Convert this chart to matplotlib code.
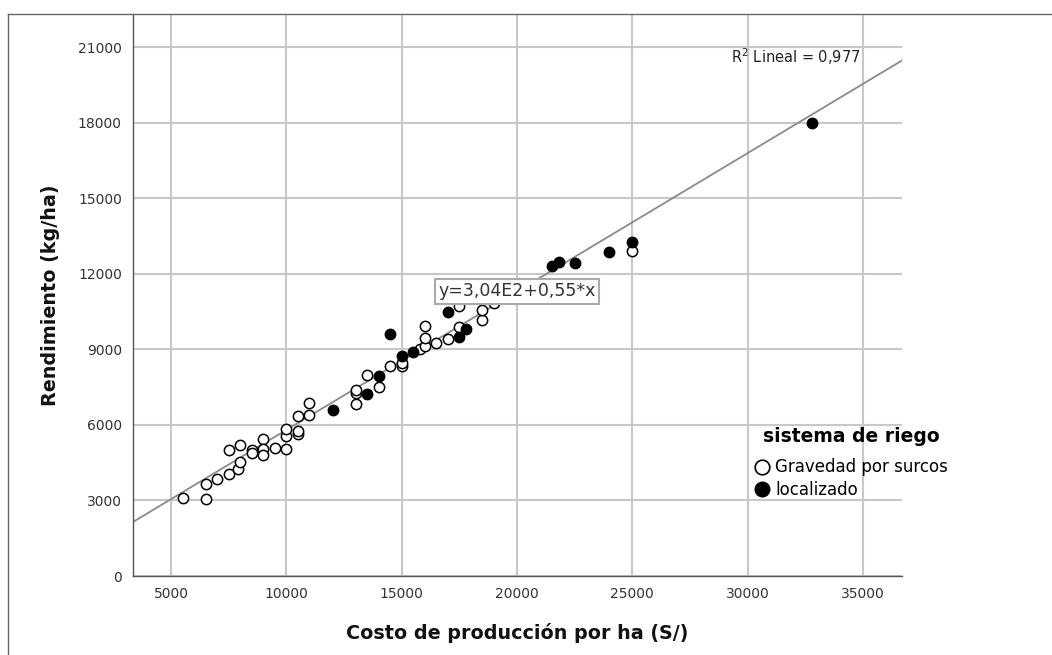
import numpy as np
import matplotlib
matplotlib.use("Agg")
import matplotlib.pyplot as plt
from matplotlib.lines import Line2D

# costo de producción (S/) y rendimiento (kg/ha) por sistema de riego
grav_costo = [5500, 6500, 6500, 7000, 7500, 7500, 7900, 8000, 8000, 8500, 8500,
              9000, 9000, 9000, 9500, 10000, 10000, 10000, 10500, 10500, 10500,
              11000, 11000, 13000, 13000, 13000, 13500, 14000, 14500, 15000, 15000,
              15800, 16000, 16000, 16000, 16500, 17000, 17500, 17500, 18500, 18500,
              19000, 25000]
grav_rend = [3100, 3070, 3640, 3860, 4060, 5000, 4270, 4530, 5200, 4990, 4890,
             5450, 5050, 4820, 5080, 5060, 5570, 5860, 5660, 5780, 6350,
             6400, 6860, 6840, 7280, 7410, 8000, 7500, 8330, 8340, 8480,
             9000, 9150, 9460, 9950, 9250, 9420, 9880, 10720, 10190, 10570,
             10830, 12930]

loc_costo = [12000, 13500, 14000, 14500, 15000, 15500, 17000, 17500, 17800,
             21500, 21800, 22500, 24000, 25000, 32800]
loc_rend = [6600, 7240, 7940, 9620, 8760, 8920, 10480, 9490, 9820,
            12330, 12490, 12450, 12860, 13260, 18000]

# recta de ajuste lineal
intercepto = 304
pendiente = 0.55
r2 = "0,977"

x_ticks = [5000, 10000, 15000, 20000, 25000, 30000, 35000]
y_ticks = [0, 3000, 6000, 9000, 12000, 15000, 18000, 21000]

W, H = 1052, 655
fig = plt.figure(figsize=(W / 100, H / 100), dpi=100)
ax = fig.add_axes([133 / W, 1 - 576 / H, (902 - 133) / W, (576 - 14) / H])

xmin, xmax = 3350, 36690
ax.set_xlim(xmin, xmax)
ax.set_ylim(0, 22330)

ax.set_xticks(x_ticks)
ax.set_yticks(y_ticks)
ax.grid(True, color="#c8c8c8", linewidth=1.5, zorder=0)
ax.set_axisbelow(True)
ax.tick_params(length=0, labelsize=10, labelcolor="#333333", pad=8)

for s in ["top", "right"]:
    ax.spines[s].set_visible(False)
for s in ["left", "bottom"]:
    ax.spines[s].set_color("#555555")
    ax.spines[s].set_linewidth(1.0)

# línea de regresión
xl = np.array([xmin, xmax])
ax.plot(xl, intercepto + pendiente * xl, color="#8a8a8a", linewidth=1.3, zorder=2)

ax.scatter(grav_costo, grav_rend, s=55, facecolor="white", edgecolor="black",
           linewidth=1.1, zorder=3)
ax.scatter(loc_costo, loc_rend, s=55, facecolor="black", edgecolor="black",
           linewidth=1.1, zorder=3)

ax.text(32100, 20650, "R$^{2}$ Lineal = " + r2, fontsize=10.5, color="#222222",
        ha="center", va="center", zorder=4)
ax.text(20000, 11320, "y=3,04E2+0,55*x", fontsize=12.5, color="#333333",
        ha="center", va="center", zorder=5,
        bbox=dict(boxstyle="square,pad=0.2", facecolor="white",
                  edgecolor="#aaaaaa", linewidth=1.5))

ax.set_xlabel("Costo de producción por ha (S/)", fontsize=13.8, fontweight="bold",
              color="#111111", labelpad=16)
ax.set_ylabel("Rendimiento (kg/ha)", fontsize=13.8, fontweight="bold",
              color="#111111", labelpad=13)

handles = [
    Line2D([], [], marker="o", linestyle="none", markersize=10.5,
           markerfacecolor="white", markeredgecolor="black", markeredgewidth=1.2),
    Line2D([], [], marker="o", linestyle="none", markersize=10.5,
           markerfacecolor="black", markeredgecolor="black"),
]
leg = ax.legend(handles, ["Gravedad por surcos", "localizado"], title="sistema de riego",
                frameon=False, fontsize=12, title_fontproperties={"weight": "bold", "size": 13.5},
                loc="upper left", bbox_to_anchor=(755 / W, 1 - 427 / H),
                bbox_transform=fig.transFigure, handlelength=0.8, handletextpad=0.4,
                labelspacing=0.28, borderpad=0, borderaxespad=0)
leg._legend_box.align = "center"
leg._legend_box.sep = 9  # separación entre el título y las entradas

# marco exterior
fig.add_artist(Line2D([8 / W, 8 / W], [0, 1 - 14 / H], color="#666666", linewidth=1.0,
                      transform=fig.transFigure))
fig.add_artist(Line2D([8 / W, 1], [1 - 14 / H, 1 - 14 / H], color="#666666", linewidth=1.0,
                      transform=fig.transFigure))

fig.savefig("out.png", dpi=100)
